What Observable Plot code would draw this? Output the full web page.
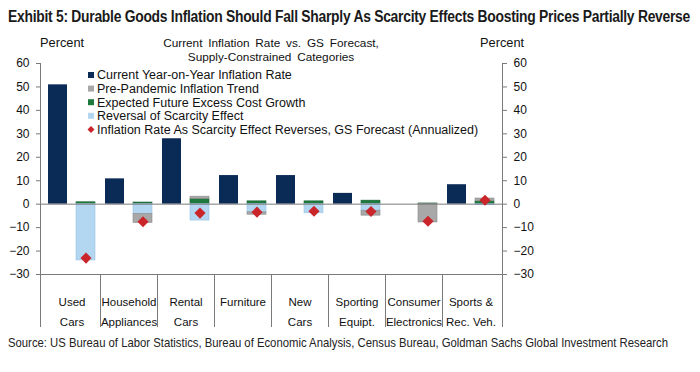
<!DOCTYPE html>
<html>
<head>
<meta charset="utf-8">
<script src="https://cdn.jsdelivr.net/npm/d3@7"></script>
<script src="https://cdn.jsdelivr.net/npm/@observablehq/plot@0.6"></script>
<style>
  body { margin: 0; background: #fff; width: 700px; height: 372px; overflow: hidden; }
  #title { height: 32px; line-height: 34px; padding-left: 8px; white-space: nowrap; }
  #title span { display: inline-block; font-family: "Liberation Sans", Arial, sans-serif; font-weight: bold; font-size: 16px; color: #1a1a1a; transform-origin: 0 50%; letter-spacing: -0.3px; }
  #source { height: 20px; line-height: 20px; padding-left: 8px; white-space: nowrap; }
  #source span { display: inline-block; font-family: "Liberation Sans", Arial, sans-serif; font-size: 13.5px; color: #222; transform-origin: 0 50%; }
  #chart svg { display: block; }
</style>
</head>
<body>
<div id="title"><span>Exhibit 5: Durable Goods Inflation Should Fall Sharply As Scarcity Effects Boosting Prices Partially Reverse</span></div>
<div id="chart"></div>
<div id="source"><span>Source: US Bureau of Labor Statistics, Bureau of Economic Analysis, Census Bureau, Goldman Sachs Global Investment Research</span></div>
<script>
const categories = ["Used\nCars", "Household\nAppliances", "Rental\nCars", "Furniture", "New\nCars", "Sporting\nEquipt.", "Consumer\nElectronics", "Sports &\nRec. Veh."];
const current  = [50.9, 10.8, 27.9, 12.2, 12.2, 4.6, 0, 8.3];
const trend    = [0, -3.8, 1.0, -1.0, 0, -2.1, -7.8, 1.2];
const excess   = [0.8, 0.7, 2.2, 1.2, 1.2, 1.5, 0.3, 1.2];
const reversal = [-24.0, -4.2, -7.0, -3.5, -3.9, -2.8, 0, -0.4];
const forecast = [-23.0, -7.5, -3.8, -3.4, -3.0, -3.1, -7.3, 1.7];
const yTicks = [-30, -20, -10, 0, 10, 20, 30, 40, 50, 60];
const seriesNames = ["Current Year-on-Year Inflation Rate", "Pre-Pandemic Inflation Trend", "Expected Future Excess Cost Growth", "Reversal of Scarcity Effect", "Inflation Rate As Scarcity Effect Reverses, GS Forecast (Annualized)"];
const colors = {navy: "#0b2b57", gray: "#a8a8a8", green: "#1d7a3c", blue: "#b3d6f1", red: "#c9252b"};

const currentData = categories.map((c, i) => ({cat: c, value: current[i]}));
const stackData = [];
categories.forEach((c, i) => {
  stackData.push({cat: c, series: "excess", value: excess[i]});
  stackData.push({cat: c, series: "reversal", value: reversal[i]});
  stackData.push({cat: c, series: "trend", value: trend[i]});
});
const forecastData = categories.map((c, i) => ({cat: c, value: forecast[i]}));
const fillFor = {excess: colors.green, reversal: colors.blue, trend: colors.gray};
const strokeFor = {excess: "#166030", reversal: "#9cc4e4", trend: "#8a8a8a"};

const W = 700, H = 300;
const chart = Plot.plot({
  width: W, height: H,
  marginLeft: 40, marginRight: 198, marginTop: 31, marginBottom: 58,
  style: {fontFamily: "'Liberation Sans', Arial, sans-serif", fontSize: "12px", color: "#111", background: "#fff"},
  x: {domain: categories, padding: 0, label: null},
  y: {domain: [-30, 60], label: null},
  marks: [
    Plot.barY(currentData, {x: "cat", y: "value", fill: colors.navy, insetLeft: 5, insetRight: 33}),
    Plot.barY(stackData, Plot.stackY({x: "cat", y: "value", fill: d => fillFor[d.series], stroke: d => strokeFor[d.series], strokeWidth: 0.6, insetLeft: 33, insetRight: 5})),
    Plot.ruleY([0], {stroke: "#7a7a7a", strokeWidth: 1}),
    Plot.ruleY([-30], {stroke: "#7a7a7a", strokeWidth: 1}),
    Plot.dot(forecastData, {x: "cat", y: "value", dx: 14, symbol: "diamond2", r: 5, fill: colors.red, stroke: "none"}),
    Plot.axisY({anchor: "left", ticks: yTicks, tickSize: 4, tickPadding: 7, stroke: "#7a7a7a", label: null}),
    Plot.axisY({anchor: "right", ticks: yTicks, tickSize: 4, tickPadding: 7, stroke: "#7a7a7a", label: null}),
    Plot.axisX({anchor: "bottom", tickSize: 0, tickPadding: 17, label: null, fontSize: "11.5px", lineHeight: 1.75})
  ]
});

const svg = d3.select(chart);
const xs = chart.scale("x"), ys = chart.scale("y");
const [x0, x1] = xs.range;
const yTop = ys.apply(60), yAxis = ys.apply(-30), yBottom = yAxis + 53;
const g = svg.append("g").attr("stroke", "#7a7a7a").attr("stroke-width", 1);
[x0, x1].forEach(x => g.append("line").attr("x1", x + 0.5).attr("x2", x + 0.5).attr("y1", yTop).attr("y2", yBottom));
categories.slice(1).forEach(c => {
  const x = Math.round(xs.apply(c)) + 0.5;
  g.append("line").attr("x1", x).attr("x2", x).attr("y1", yAxis).attr("y2", yBottom);
});

// headers
const tg = svg.append("g").attr("font-family", "'Liberation Sans', Arial, sans-serif").attr("fill", "#111").attr("text-anchor", "start");
tg.append("text").attr("x", 40).attr("y", 15).attr("font-size", "12.8px").text("Percent");
tg.append("text").attr("x", 480).attr("y", 15).attr("font-size", "12.8px").text("Percent");
tg.append("text").attr("x", (x0 + x1) / 2).attr("y", 15).attr("text-anchor", "middle").attr("font-size", "11.8px").attr("word-spacing", "2.5px").text("Current Inflation Rate vs. GS Forecast,");
tg.append("text").attr("x", (x0 + x1) / 2).attr("y", 29).attr("text-anchor", "middle").attr("font-size", "11.8px").attr("word-spacing", "2.5px").text("Supply-Constrained Categories");

// legend
const lg = svg.append("g").attr("font-family", "'Liberation Sans', Arial, sans-serif").attr("font-size", "12.5px").attr("fill", "#111").attr("text-anchor", "start");
const legendColors = [colors.navy, colors.gray, colors.green, colors.blue, colors.red];
seriesNames.forEach((name, i) => {
  const cy = 43 + i * 13.6;
  if (i < 4) {
    lg.append("rect").attr("x", 88).attr("y", cy - 3).attr("width", 6).attr("height", 6).attr("fill", legendColors[i]);
  } else {
    lg.append("path").attr("d", `M91,${cy - 3.5}L94.5,${cy}L91,${cy + 3.5}L87.5,${cy}Z`).attr("fill", legendColors[i]);
  }
  lg.append("text").attr("x", 97).attr("y", cy + 4.4).text(name);
});

document.getElementById("chart").appendChild(chart);

function fit(sel, target) {
  const el = document.querySelector(sel);
  const w = el.getBoundingClientRect().width;
  el.style.transform = `scaleX(${target / w})`;
}
fit("#title span", 682);
fit("#source span", 660);
</script>
</body>
</html>
